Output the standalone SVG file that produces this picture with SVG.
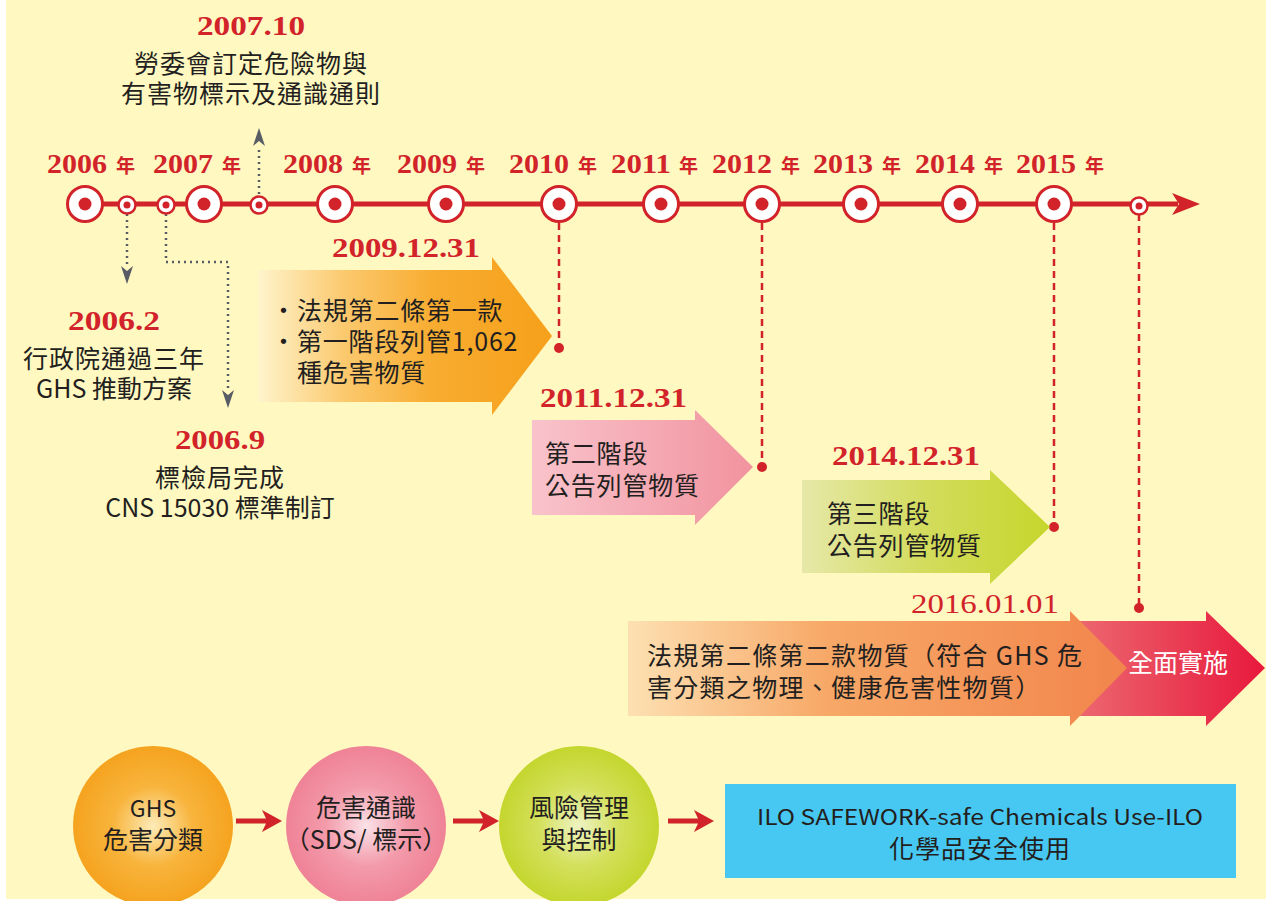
<svg xmlns="http://www.w3.org/2000/svg" width="1266" height="901" viewBox="0 0 1266 901">
<defs>
<linearGradient id="gOrange" x1="0" y1="0" x2="1" y2="0">
<stop offset="0" stop-color="#fef4cc"/><stop offset="0.3" stop-color="#fbc86c"/><stop offset="0.6" stop-color="#f8ac30"/><stop offset="1" stop-color="#f6a01a"/>
</linearGradient>
<linearGradient id="gPink" x1="0" y1="0" x2="1" y2="0">
<stop offset="0" stop-color="#f9c3cb"/><stop offset="1" stop-color="#f1939f"/>
</linearGradient>
<linearGradient id="gGreen" x1="0" y1="0" x2="1" y2="0">
<stop offset="0" stop-color="#e6e8a8"/><stop offset="0.5" stop-color="#d3dc5c"/><stop offset="1" stop-color="#c6d62c"/>
</linearGradient>
<linearGradient id="gPeach" x1="0" y1="0" x2="1" y2="0">
<stop offset="0" stop-color="#fde0b2"/><stop offset="0.4" stop-color="#f7a867"/><stop offset="1" stop-color="#f2854c"/>
</linearGradient>
<linearGradient id="gRed" x1="0" y1="0" x2="1" y2="0">
<stop offset="0" stop-color="#ec6f74"/><stop offset="1" stop-color="#e8183c"/>
</linearGradient>
<radialGradient id="rOrange" cx="0.5" cy="0.5" r="0.5">
<stop offset="0" stop-color="#fdebb8"/><stop offset="0.5" stop-color="#f8b43c"/><stop offset="1" stop-color="#f5a31f"/>
</radialGradient>
<radialGradient id="rPink" cx="0.5" cy="0.5" r="0.5">
<stop offset="0" stop-color="#fbe2e8"/><stop offset="0.5" stop-color="#f39bab"/><stop offset="1" stop-color="#ef8296"/>
</radialGradient>
<radialGradient id="rGreen" cx="0.5" cy="0.5" r="0.5">
<stop offset="0" stop-color="#eef3c2"/><stop offset="0.5" stop-color="#d4e05c"/><stop offset="1" stop-color="#c4d62e"/>
</radialGradient>
</defs>
<style>
.date{font-family:"Liberation Serif",serif;font-weight:bold;font-size:27px;fill:#d2232a}
.date2{font-family:"Liberation Serif",serif;font-size:27px;fill:#d2232a}
.year{font-family:"Liberation Serif",serif;font-weight:bold;font-size:28px;fill:#d2232a}
.nian{font-family:"Noto Sans CJK TC",sans-serif;font-weight:bold;font-size:19px;fill:#d2232a}
.txt{font-family:"Noto Sans CJK TC",sans-serif;font-size:25px;fill:#231f20}
.ctr{text-anchor:middle}
.big{fill:#fff;stroke:#d2232a;stroke-width:3}
.small{fill:#fff;stroke:#d2232a;stroke-width:2.5}
.dot{fill:#d2232a}
.dash{stroke:#d2232a;stroke-width:2.5;stroke-dasharray:7 5;fill:none}
.dotted{stroke:#585c64;stroke-width:2.5;stroke-dasharray:2 4;fill:none}
.ghead{fill:#585c64}
.rarrow{fill:#d2232a}
</style>
<rect x="0" y="0" width="1266" height="901" fill="#ffffff"/>
<rect x="6" y="0" width="1260" height="899" fill="#fff8c0"/>

<g id="connectors">
<line x1="85" y1="204" x2="1178" y2="204" stroke="#d2232a" stroke-width="5"/>
<path d="M1200,204 L1172,193 L1179,204 L1172,215 Z" fill="#d2232a"/>
<path class="dotted" d="M259,194 V146"/>
<path class="ghead" d="M259,128 L265,146 L259,141 L253,146 Z"/>
<path class="dotted" d="M127,214 V266"/>
<path class="ghead" d="M127,284 L121,266 L127,271 L133,266 Z"/>
<path class="dotted" d="M166,214 V262 H228 V390"/>
<path class="ghead" d="M228,408 L222,390 L228,395 L234,390 Z"/>
<path class="dash" d="M559,223 V346"/>
<circle class="dot" cx="559" cy="348" r="5"/>
<path class="dash" d="M762,223 V465"/>
<circle class="dot" cx="762" cy="467" r="5"/>
<path class="dash" d="M1054,223 V525"/>
<circle class="dot" cx="1054" cy="527" r="5"/>
<path class="dash" d="M1139,214 V606"/>
<circle class="dot" cx="1139" cy="608" r="5"/>
<path class="rarrow" d="M236,818.5 H266 L262,810 L282,821 L262,832 L266,823.5 H236 Z"/>
<path class="rarrow" d="M453,818.5 H483 L479,810 L499,821 L479,832 L483,823.5 H453 Z"/>
<path class="rarrow" d="M668,818.5 H698 L694,810 L714,821 L694,832 L698,823.5 H668 Z"/>
</g>

<g id="timeline-points">
<circle class="big" cx="85" cy="204" r="17.5"/><circle class="dot" cx="85" cy="204" r="6.5"/>
<circle class="small" cx="127" cy="205" r="8.5"/><circle class="dot" cx="127" cy="205" r="3.5"/>
<circle class="small" cx="166" cy="205" r="8.5"/><circle class="dot" cx="166" cy="205" r="3.5"/>
<circle class="big" cx="204" cy="204" r="17.5"/><circle class="dot" cx="204" cy="204" r="6.5"/>
<circle class="small" cx="259" cy="205" r="8.5"/><circle class="dot" cx="259" cy="205" r="3.5"/>
<circle class="big" cx="335" cy="204" r="17.5"/><circle class="dot" cx="335" cy="204" r="6.5"/>
<circle class="big" cx="446" cy="204" r="17.5"/><circle class="dot" cx="446" cy="204" r="6.5"/>
<circle class="big" cx="559" cy="204" r="17.5"/><circle class="dot" cx="559" cy="204" r="6.5"/>
<circle class="big" cx="661" cy="204" r="17.5"/><circle class="dot" cx="661" cy="204" r="6.5"/>
<circle class="big" cx="762" cy="204" r="17.5"/><circle class="dot" cx="762" cy="204" r="6.5"/>
<circle class="big" cx="861" cy="204" r="17.5"/><circle class="dot" cx="861" cy="204" r="6.5"/>
<circle class="big" cx="960" cy="204" r="17.5"/><circle class="dot" cx="960" cy="204" r="6.5"/>
<circle class="big" cx="1054" cy="204" r="17.5"/><circle class="dot" cx="1054" cy="204" r="6.5"/>
<circle class="small" cx="1139" cy="206" r="8.5"/><circle class="dot" cx="1139" cy="206" r="3.5"/>
</g>

<g id="year-labels">
<text class="year" x="47" y="173" textLength="60" lengthAdjust="spacingAndGlyphs">2006</text><text class="nian" x="116" y="173">年</text>
<text class="year" x="153" y="173" textLength="60" lengthAdjust="spacingAndGlyphs">2007</text><text class="nian" x="222" y="173">年</text>
<text class="year" x="283" y="173" textLength="60" lengthAdjust="spacingAndGlyphs">2008</text><text class="nian" x="352" y="173">年</text>
<text class="year" x="397" y="173" textLength="60" lengthAdjust="spacingAndGlyphs">2009</text><text class="nian" x="466" y="173">年</text>
<text class="year" x="509" y="173" textLength="60" lengthAdjust="spacingAndGlyphs">2010</text><text class="nian" x="578" y="173">年</text>
<text class="year" x="611" y="173" textLength="60" lengthAdjust="spacingAndGlyphs">2011</text><text class="nian" x="679" y="173">年</text>
<text class="year" x="712" y="173" textLength="60" lengthAdjust="spacingAndGlyphs">2012</text><text class="nian" x="781" y="173">年</text>
<text class="year" x="813" y="173" textLength="60" lengthAdjust="spacingAndGlyphs">2013</text><text class="nian" x="882" y="173">年</text>
<text class="year" x="915" y="173" textLength="60" lengthAdjust="spacingAndGlyphs">2014</text><text class="nian" x="984" y="173">年</text>
<text class="year" x="1016" y="173" textLength="60" lengthAdjust="spacingAndGlyphs">2015</text><text class="nian" x="1085" y="173">年</text>
</g>

<g id="event-2007-10">
<text class="date" x="197" y="35" textLength="108" lengthAdjust="spacingAndGlyphs">2007.10</text>
<text class="txt ctr" x="251" y="73" letter-spacing="1">勞委會訂定危險物與</text>
<text class="txt ctr" x="251" y="103" letter-spacing="1">有害物標示及通識通則</text>
</g>

<g id="event-2006-2">
<text class="date" x="68" y="330" textLength="92" lengthAdjust="spacingAndGlyphs">2006.2</text>
<text class="txt ctr" x="114" y="368" letter-spacing="1">行政院通過三年</text>
<text class="txt ctr" x="114" y="398">GHS 推動方案</text>
</g>

<g id="event-2006-9">
<text class="date" x="175" y="449" textLength="90" lengthAdjust="spacingAndGlyphs">2006.9</text>
<text class="txt ctr" x="220" y="487" letter-spacing="1">標檢局完成</text>
<text class="txt ctr" x="220" y="517">CNS 15030 標準制訂</text>
</g>

<g id="stage-1">
<text class="date" x="332" y="257" textLength="148" lengthAdjust="spacingAndGlyphs">2009.12.31</text>
<path d="M258,270 H492 V257 L552,336 L492,415 V402 H258 Z" fill="url(#gOrange)"/>
<text class="txt" x="271" y="320">·</text>
<text class="txt" x="297" y="320" letter-spacing="0.8">法規第二條第一款</text>
<text class="txt" x="271" y="351">·</text>
<text class="txt" x="297" y="351" letter-spacing="0.8">第一階段列管1,062</text>
<text class="txt" x="297" y="382" letter-spacing="0.8">種危害物質</text>
</g>

<g id="stage-2">
<text class="date" x="540" y="407" textLength="147" lengthAdjust="spacingAndGlyphs">2011.12.31</text>
<path d="M532,420 H695 V410 L753,467 L695,525 V515 H532 Z" fill="url(#gPink)"/>
<text class="txt" x="545" y="463" letter-spacing="0.8">第二階段</text>
<text class="txt" x="545" y="495" letter-spacing="0.8">公告列管物質</text>
</g>

<g id="stage-3">
<text class="date" x="832" y="465" textLength="148" lengthAdjust="spacingAndGlyphs">2014.12.31</text>
<path d="M802,480 H990 V470 L1050,527 L990,584 V573 H802 Z" fill="url(#gGreen)"/>
<text class="txt" x="827" y="523" letter-spacing="0.8">第三階段</text>
<text class="txt" x="827" y="555" letter-spacing="0.8">公告列管物質</text>
</g>

<g id="stage-4">
<text class="date2" x="911" y="613" textLength="148" lengthAdjust="spacingAndGlyphs">2016.01.01</text>
<path d="M1060,621 H1206 V611 L1265,668 L1206,726 V716 H1060 Z" fill="url(#gRed)"/>
<path d="M628,621 H1070 V611 L1127,668 L1070,726 V716 H628 Z" fill="url(#gPeach)"/>
<text class="txt" x="647" y="665" letter-spacing="1.3">法規第二條第二款物質（符合 GHS 危</text>
<text class="txt" x="647" y="697" letter-spacing="1.3">害分類之物理、健康危害性物質）</text>
<text class="txt" x="1178" y="672" text-anchor="middle" style="fill:#ffffff">全面實施</text>
</g>

<g id="ghs-classification">
<circle cx="153" cy="826" r="80" fill="url(#rOrange)"/>
<text class="txt ctr" x="153" y="817" style="font-size:23px">GHS</text>
<text class="txt ctr" x="153" y="849">危害分類</text>
</g>

<g id="hazard-communication">
<circle cx="366" cy="826" r="80" fill="url(#rPink)"/>
<text class="txt ctr" x="366" y="817">危害通識</text>
<text class="txt ctr" x="366" y="849">（SDS/ 標示）</text>
</g>

<g id="risk-management">
<circle cx="579" cy="826" r="80" fill="url(#rGreen)"/>
<text class="txt ctr" x="579" y="817">風險管理</text>
<text class="txt ctr" x="579" y="849">與控制</text>
</g>

<g id="ilo-box">
<rect x="725" y="784" width="511" height="94" fill="#47c8f2"/>
<text class="txt" x="757" y="825" style="font-size:22px" textLength="446" lengthAdjust="spacingAndGlyphs">ILO SAFEWORK-safe Chemicals Use-ILO</text>
<text class="txt ctr" x="980" y="858" letter-spacing="1">化學品安全使用</text>
</g>
</svg>
